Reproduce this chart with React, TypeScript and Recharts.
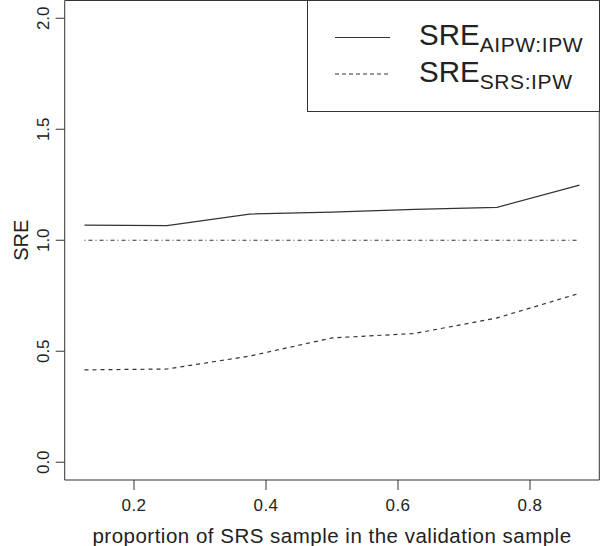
import React from 'react';
import { LineChart, Line, XAxis, YAxis, ReferenceLine, ReferenceArea, Legend, Label } from 'recharts';

const proportions = [0.125, 0.25, 0.375, 0.5, 0.625, 0.75, 0.875];
const sreAipwIpw = [1.068, 1.066, 1.118, 1.127, 1.139, 1.148, 1.248];
const sreSrsIpw = [0.416, 0.42, 0.478, 0.56, 0.58, 0.65, 0.761];
const xTicks = [0.2, 0.4, 0.6, 0.8];
const yTicks = [0, 0.5, 1, 1.5, 2];
const referenceLevel = 1;
const xLabel = 'proportion of SRS sample in the validation sample';
const yLabel = 'SRE';
const seriesLabels = [
  { main: 'SRE', sub: 'AIPW:IPW', dash: undefined as string | undefined },
  { main: 'SRE', sub: 'SRS:IPW', dash: '4 3' },
];

const data = proportions.map((p, i) => ({ p, aipw: sreAipwIpw[i], srs: sreSrsIpw[i] }));

const FONT = '"Liberation Sans", Arial, Helvetica, sans-serif';
const INK = '#222';
const LINE = '#333';

const YTick = (props: any) => {
  const { x, y, payload } = props;
  return (
    <text x={x} y={y} transform={`rotate(-90 ${x} ${y})`} textAnchor="middle" fontSize={17} fill={INK} fontFamily={FONT}>
      {Number(payload.value).toFixed(1)}
    </text>
  );
};

const XTick = (props: any) => {
  const { x, y, payload } = props;
  return (
    <text x={x} y={y} dy="0.71em" textAnchor="middle" fontSize={17} fill={INK} fontFamily={FONT} letterSpacing={0.4}>
      {Number(payload.value).toFixed(1)}
    </text>
  );
};

const renderLegend = () => (
  <svg width={293} height={112} style={{ display: 'block' }}>
    <rect x={0.5} y={0.5} width={292} height={111} fill="white" stroke={LINE} strokeWidth={1} />
    {seriesLabels.map((s, i) => {
      const ly = 37.5 + i * 36.5;
      return (
        <g key={i}>
          <line x1={28} x2={83} y1={ly} y2={ly} stroke={LINE} strokeWidth={1.2} strokeDasharray={s.dash} />
          <text x={112} y={45 + i * 36.5} fontSize={29.5} fill={INK} fontFamily={FONT}>
            <tspan>{s.main}</tspan>
            <tspan fontSize={21} dy={7} letterSpacing={0.6}>{s.sub}</tspan>
          </text>
        </g>
      );
    })}
  </svg>
);

export default function App() {
  return (
    <div style={{ position: 'absolute', left: 0, top: 0, width: 600, height: 546, background: 'white' }}>
      <LineChart width={600} height={546} data={data} margin={{ top: 0.5, right: 0.7, bottom: 0, left: 0 }}>
        <XAxis
          type="number"
          dataKey="p"
          domain={[0.095, 0.905]}
          ticks={xTicks}
          allowDataOverflow
          axisLine={false}
          tickLine={{ stroke: LINE }}
          tickSize={10}
          tickMargin={9}
          height={66}
          tick={<XTick />}
          interval={0}
        >
          <Label
            content={(props: any) => {
              const vb = props.viewBox;
              return (
                <text x={vb.x + vb.width / 2} y={vb.y + 62.7} textAnchor="middle" fontSize={20.5} letterSpacing={0.5} fill={INK} fontFamily={FONT}>
                  {xLabel}
                </text>
              );
            }}
          />
        </XAxis>
        <YAxis
          type="number"
          domain={[-0.08, 2.08]}
          ticks={yTicks}
          allowDataOverflow
          axisLine={false}
          tickLine={{ stroke: LINE }}
          tickSize={9}
          tickMargin={7}
          width={64.7}
          tick={<YTick />}
          interval={0}
        >
          <Label
            content={(props: any) => {
              const vb = props.viewBox;
              const cx = vb.x + 27.5;
              const cy = vb.y + vb.height / 2;
              return (
                <text x={cx} y={cy} transform={`rotate(-90 ${cx} ${cy})`} textAnchor="middle" fontSize={20} fill={INK} fontFamily={FONT}>
                  {yLabel}
                </text>
              );
            }}
          />
        </YAxis>
        <ReferenceArea x1={0.095} x2={0.905} y1={-0.08} y2={2.08} fill="none" stroke={LINE} strokeWidth={1} fillOpacity={0} />
        <ReferenceLine
          segment={[
            { x: proportions[0], y: referenceLevel },
            { x: proportions[proportions.length - 1], y: referenceLevel },
          ]}
          stroke={LINE}
          strokeWidth={1.1}
          strokeDasharray="1 3 4 3"
        />
        <Line type="linear" dataKey="aipw" stroke={LINE} strokeWidth={1.2} dot={false} isAnimationActive={false} />
        <Line type="linear" dataKey="srs" stroke={LINE} strokeWidth={1.2} strokeDasharray="4 4" dot={false} isAnimationActive={false} />
        <Legend
          layout="horizontal"
          verticalAlign="middle"
          align="center"
          wrapperStyle={{ position: 'absolute', left: 307, top: 0, width: 293, height: 112 }}
          content={renderLegend}
        />
      </LineChart>
    </div>
  );
}
